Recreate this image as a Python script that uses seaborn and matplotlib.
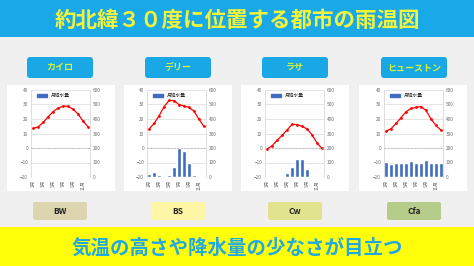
import numpy as np
import pandas as pd
import seaborn as sns
import matplotlib.pyplot as plt
from matplotlib.patches import Rectangle, FancyBboxPatch, Patch

# --- data ---
cities = ["カイロ", "デリー", "ラサ", "ヒューストン"]
climates = ["BW", "BS", "Cw", "Cfa"]
climate_colors = ["#ddd4b0", "#fff6a6", "#e2e38f", "#b5cc8a"]
months = ["1月", "2月", "3月", "4月", "5月", "6月", "7月", "8月", "9月", "10月", "11月", "12月"]

temp_cairo = [13.5, 14.6, 17.6, 21.5, 25.0, 27.5, 28.8, 28.8, 26.8, 23.6, 18.8, 14.8]
temp_delhi = [13.2, 17.0, 22.3, 28.5, 32.8, 32.7, 30.0, 29.0, 28.0, 25.5, 20.0, 15.0]
temp_lhasa = [-0.6, 1.6, 5.3, 8.8, 12.4, 16.3, 16.2, 15.0, 13.2, 9.3, 3.7, -0.3]
temp_houston = [11.6, 13.4, 17.0, 21.0, 25.0, 27.3, 28.0, 28.6, 26.0, 20.2, 15.6, 12.4]

prec_cairo = [5, 4, 3, 1, 1, 0, 0, 0, 0, 1, 3, 5]
prec_delhi = [22, 35, 17, 10, 15, 70, 200, 178, 100, 12, 5, 6]
prec_lhasa = [0, 1, 2, 6, 25, 70, 122, 127, 58, 5, 1, 0]
prec_houston = [102, 87, 96, 96, 95, 110, 94, 100, 115, 100, 100, 100]

temps = [temp_cairo, temp_delhi, temp_lhasa, temp_houston]
precs = [prec_cairo, prec_delhi, prec_lhasa, prec_houston]

sns.set_style("white")
plt.rcParams['font.family'] = ['Noto Sans CJK JP', 'DejaVu Sans']

W, H = 474, 266
fig = plt.figure(figsize=(W / 100, H / 100), dpi=100)
fig.patch.set_facecolor("#f0f0f0")

# background layer in pixel coordinates
bg = fig.add_axes([0, 0, 1, 1])
bg.set_xlim(0, W)
bg.set_ylim(H, 0)
bg.axis("off")

bg.add_patch(Rectangle((0, 0), W, 37, color="#19a8e8", lw=0))
bg.text(W / 2, 20, "約北緯３０度に位置する都市の雨温図", color="#f0f23c",
        fontsize=15.5, fontweight="bold", ha="center", va="center")

bg.add_patch(Rectangle((0, 227), W, 39, color="#ffff0a", lw=0))
bg.text(W / 2, 248, "気温の高さや降水量の少なさが目立つ", color="#22a8e0",
        fontsize=14, fontweight="bold", ha="center", va="center")

centers = [60, 178, 295, 414]
panel_left = [7, 124, 241, 359]
for i, cx in enumerate(centers):
    bg.add_patch(Rectangle((panel_left[i], 85), 108, 106, color="white", lw=0))
    bg.add_patch(FancyBboxPatch((cx - 33, 57), 66, 21,
                                boxstyle="round,pad=0,rounding_size=3",
                                color="#1aa7e6", lw=0))
    bg.text(cx, 67.5, cities[i], color="#d2f23a", fontsize=6.5,
            fontweight="bold", ha="center", va="center")
    bg.add_patch(FancyBboxPatch((cx - 27, 202), 54, 18,
                                boxstyle="round,pad=0,rounding_size=2",
                                color=climate_colors[i], lw=0))
    bg.text(cx, 211, climates[i], color="#222222", fontsize=6,
            fontweight="bold", ha="center", va="center")

# charts
ax_left = [31, 147, 265, 384]
ax_w, ax_top, ax_bot = 59, 90, 177
tick_color = "#707070"
for i in range(4):
    ax = fig.add_axes([ax_left[i] / W, 1 - ax_bot / H, ax_w / W, (ax_bot - ax_top) / H])
    df = pd.DataFrame({"month": months, "prec": precs[i], "temp": temps[i]})

    sns.barplot(data=df, x="month", y="prec", ax=ax, color="#3f6cc4",
                width=0.75, saturation=1)
    ax.set_ylim(0, 600)
    ax.set_yticks(range(0, 601, 100))
    ax.grid(axis="y", color="#d9d9d9", lw=0.5)
    ax.set_axisbelow(True)

    ax_t = ax.twinx()
    sns.lineplot(x=np.arange(12), y=df["temp"], ax=ax_t, color="#ff0000",
                 lw=0.9, marker="o", markersize=2, markeredgewidth=0)
    ax_t.axhline(0, color="#b0b0b0", lw=0.6, ls=(0, (2, 2)))
    ax_t.set_ylim(-20, 40)
    ax_t.set_yticks(range(-20, 41, 10))

    # precipitation on the right, temperature on the left
    ax.yaxis.tick_right()
    ax_t.yaxis.tick_left()

    ax.set_xlim(-0.45, 11.45)
    ax.set_xticks(range(0, 12, 2))
    ax.set_xticklabels(months[::2], rotation=90)
    for a in (ax, ax_t):
        a.set_xlabel("")
        a.set_ylabel("")
        a.tick_params(labelsize=3.4, colors=tick_color, length=0, pad=2)
        for s in a.spines.values():
            s.set_visible(False)
    for side in ("left", "right"):
        ax.spines[side].set_visible(True)
        ax.spines[side].set_color("#d0d0d0")
        ax.spines[side].set_linewidth(0.5)

    ax.legend(handles=[Patch(color="#3f6cc4", label="月降水量")], loc="upper left",
              fontsize=3.4, frameon=False, handlelength=2, handleheight=0.4,
              borderaxespad=0.3, bbox_to_anchor=(0.05, 1.0))

fig.savefig("out.png", dpi=100, facecolor=fig.get_facecolor())
